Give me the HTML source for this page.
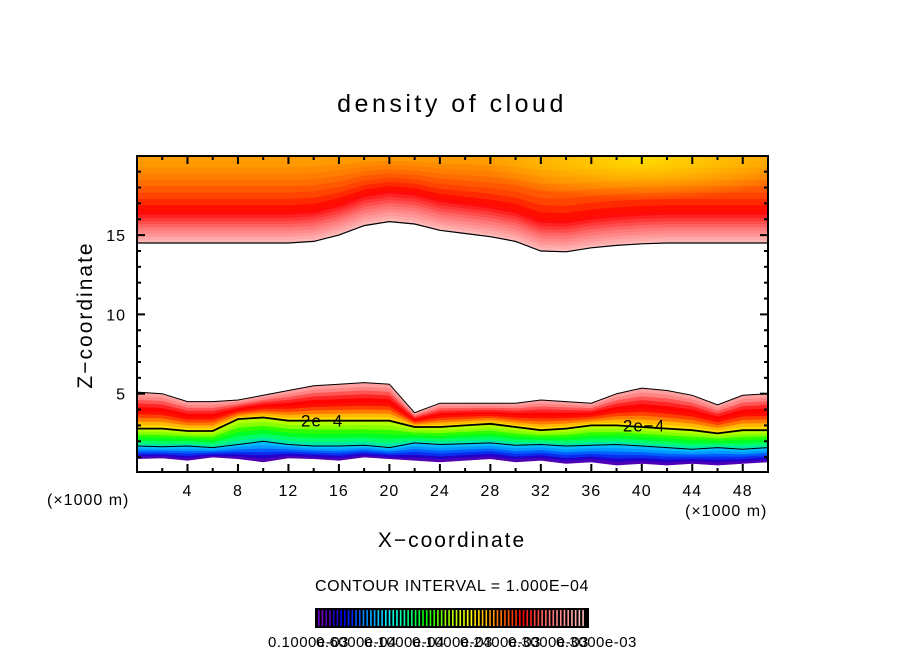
<!DOCTYPE html>
<html><head><meta charset="utf-8"><style>
body{margin:0;background:#fff;}
svg{display:block;font-family:"Liberation Sans",sans-serif;}
</style></head><body>
<svg id="chart" width="904" height="654" viewBox="0 0 904 654">
<defs>
<clipPath id="plotclip"><rect x="137" y="156" width="631" height="316"/></clipPath>
<radialGradient id="yel" cx="0.5" cy="0.5" r="0.5">
<stop offset="0" stop-color="#ffdd00" stop-opacity="0.95"/>
<stop offset="1" stop-color="#ffdd00" stop-opacity="0"/>
</radialGradient>
</defs>
<text x="452" y="112" text-anchor="middle" font-size="25" letter-spacing="3.5">density of cloud</text>
<g id="field" clip-path="url(#plotclip)"></g>
<g id="lines" clip-path="url(#plotclip)"></g>
<rect x="137" y="156" width="631" height="316" fill="none" stroke="#000" stroke-width="2"/>
<g id="ticks"></g>
<text x="47" y="505" font-size="16" letter-spacing="1">(×1000 m)</text>
<text x="685" y="516" font-size="16" letter-spacing="1">(×1000 m)</text>
<text x="452" y="547" text-anchor="middle" font-size="21" letter-spacing="2">X−coordinate</text>
<text transform="translate(92,315) rotate(-90)" text-anchor="middle" font-size="21" letter-spacing="2">Z−coordinate</text>
<text x="452" y="591" text-anchor="middle" font-size="16" letter-spacing="0.6">CONTOUR INTERVAL = 1.000E−04</text>
<rect x="315" y="608" width="274" height="20" fill="#000"/>
<g id="cbar"></g>
<g id="cblab" font-size="15" letter-spacing="0.5"></g>
</svg>
<script>
const xs=[0,2,4,6,8,10,12,14,16,18,20,22,24,26,28,30,32,34,36,38,40,42,44,46,48,50];
const topBase=[14.5,14.5,14.5,14.5,14.5,14.5,14.5,14.6,15.0,15.6,15.85,15.7,15.3,15.1,14.9,14.6,14.0,13.95,14.2,14.35,14.45,14.5,14.5,14.5,14.5,14.5];
const cloudTop=[5.1,5.0,4.5,4.5,4.6,4.9,5.2,5.5,5.6,5.7,5.6,3.8,4.4,4.4,4.4,4.4,4.6,4.5,4.4,5.0,5.35,5.2,4.9,4.3,4.9,5.0];
const contour2e4=[2.8,2.8,2.65,2.65,3.4,3.5,3.3,3.3,3.3,3.3,3.3,2.9,2.9,3.0,3.1,2.9,2.7,2.8,3.0,3.0,2.9,2.8,2.7,2.5,2.7,2.7];
const contour1e4=[1.7,1.65,1.7,1.6,1.8,2.0,1.8,1.7,1.7,1.75,1.6,1.9,1.8,1.85,1.9,1.75,1.8,1.7,1.75,1.8,1.7,1.6,1.5,1.6,1.5,1.6];
const cloudBase=[0.9,0.95,0.8,1.0,0.9,0.7,0.95,0.9,0.8,1.0,0.9,0.8,0.7,0.8,0.9,0.7,0.8,0.6,0.7,0.5,0.6,0.5,0.6,0.5,0.6,0.7];
const xTicks=[4,8,12,16,20,24,28,32,36,40,44,48];
const zTicks=[5,10,15];
const cbLabels=["0.1000e-03","0.6000e-04","0.1000e-04","0.1000e-03","0.2400e-03","0.3000e-03","0.3000e-03"];
const cbColors=["#7700cc","#5500bb","#2200cc","#0000ee","#0022ff","#0055ff","#0088ff","#00aaff","#00ccff","#00eeff","#00ffdd","#00ffaa","#00ff77","#00ff44","#00ff00","#33ff00","#66ff00","#99ff00","#bbff00","#ddff00","#ffff00","#ffdd00","#ffbb00","#ff9900","#ff7700","#ff5500","#ff3300","#ff0000","#ff2222","#ff4444","#ff6666","#ff7777","#ff8888","#ff9999","#ffaaaa","#ffbbbb"];
const NS="http://www.w3.org/2000/svg";
const X=k=>137+k*12.62, Z=z=>473-z*15.86;
function mk(t,a,p){const e=document.createElementNS(NS,t);for(const k in a)e.setAttribute(k,a[k]);p.appendChild(e);return e;}
function lerpArr(a,b,f){return a.map((v,i)=>v+(b[i]-v)*f);}
function ptsOf(arr){return xs.map((x,i)=>X(x).toFixed(1)+","+Z(arr[i]).toFixed(1));}
function hex(c){return [1,3,5].map(i=>parseInt(c.substr(i,2),16));}
function mix(c1,c2,f){const a=hex(c1),b=hex(c2);return "rgb("+a.map((v,i)=>Math.round(v+(b[i]-v)*f)).join(",")+")";}
function ramp(stops,f){const n=stops.length-1;const i=Math.min(n-1,Math.floor(f*n));return mix(stops[i],stops[i+1],f*n-i);}
const field=document.getElementById('field');
function bands(lo,hi,n,stops,name){
 for(let k=0;k<n;k++){
  const a=lerpArr(lo,hi,k/n), b=lerpArr(lo,hi,(k+1)/n);
  const p=mk('polygon',{points:ptsOf(a).concat(ptsOf(b).reverse()).join(' '),fill:ramp(stops,(k+0.5)/n),stroke:ramp(stops,(k+0.5)/n),'stroke-width':0.6},field);
  
  
 }
}
const top20=xs.map(()=>20.5), redCore=topBase.map(v=>v+2);
bands(topBase,redCore,10,["#ffc0c0","#ff7070","#ff0000"],'upper-cloud-lower');
bands(redCore,top20,10,["#ff0000","#ff4400","#ff7700","#ff9900","#ffa000"],'upper-cloud-upper');
const yo=mk('ellipse',{cx:X(40),cy:Z(19.8),rx:12.62*13,ry:15.86*2.6,fill:'url(#yel)'},field);


bands(cloudBase,contour1e4,6,["#6600aa","#2200cc","#0044ff","#0099ff","#00ccff"],'lower-cloud-blue');
bands(contour1e4,contour2e4,6,["#00ddcc","#00ff66","#00ff00","#88ff00","#ccff00"],'lower-cloud-green');
bands(contour2e4,cloudTop,10,["#ffee00","#ffbb00","#ff6600","#ff1100","#ff0000","#ff4444","#ff8888","#ffaaaa"],'lower-cloud-red');
const lines=document.getElementById('lines');
function line(arr,w,name){const p=mk('polyline',{points:ptsOf(arr).join(' '),fill:'none',stroke:'#000','stroke-width':w},lines);}
line(topBase,1.2,'upper-cloud-edge');
line(cloudTop,1,'lower-cloud-top-edge');
line(contour2e4,1.8,'contour-2e-4');
line(contour1e4,1,'contour-1e-4');
[[X(13),Z(contour2e4[6])],[X(38.5),Z(contour2e4[19])]].forEach(([x,y])=>{
 const t=mk('text',{x:x,y:y+6,'font-size':17,'letter-spacing':1},lines);t.textContent='2e−4';
 
 
});
const tk=document.getElementById('ticks');
for(let k=2;k<50;k+=2){const L=k%4===0?8:4;
 mk('line',{x1:X(k),x2:X(k),y1:472,y2:472-L,stroke:'#000','stroke-width':2},tk);
 mk('line',{x1:X(k),x2:X(k),y1:156,y2:156+L,stroke:'#000','stroke-width':2},tk);}
for(let z=1;z<20;z++){const L=z%5===0?8:4;
 mk('line',{x1:137,x2:137+L,y1:Z(z),y2:Z(z),stroke:'#000','stroke-width':2},tk);
 mk('line',{x1:768,x2:768-L,y1:Z(z),y2:Z(z),stroke:'#000','stroke-width':2},tk);}
xTicks.forEach(v=>{const t=mk('text',{x:X(v),y:496,'text-anchor':'middle','font-size':16,'letter-spacing':1},tk);t.textContent=v;
 });
zTicks.forEach(v=>{const t=mk('text',{x:126,y:Z(v)+6,'text-anchor':'end','font-size':16,'letter-spacing':1},tk);t.textContent=v;
 });
const cb=document.getElementById('cbar');
const step=268/cbColors.length;
cbColors.forEach((c,i)=>{for(let j=0;j<2;j++){const r=mk('rect',{x:318+i*step+j*step/2,y:610,width:1.6,height:16,fill:c},cb);
 }});
const cl=document.getElementById('cblab');
cbLabels.forEach((s,i)=>{const t=mk('text',{x:268+i*48,y:647},cl);t.textContent=s;
 });
</script>
</body></html>
